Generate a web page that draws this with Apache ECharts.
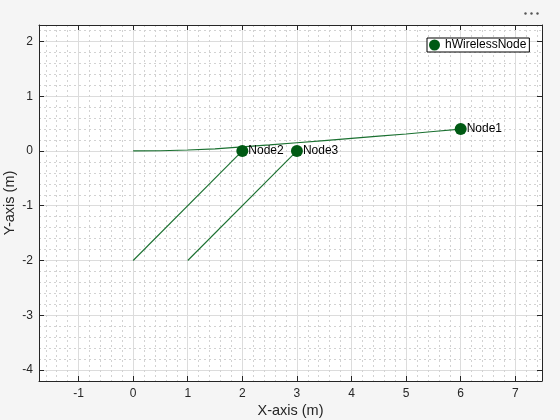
<!DOCTYPE html>
<html>
<head>
<meta charset="utf-8">
<script src="https://cdn.jsdelivr.net/npm/echarts@6/dist/echarts.min.js"></script>
<style>
html,body{margin:0;padding:0;background:#f5f5f5;}
#c{width:560px;height:420px;}
</style>
</head>
<body>
<div id="c"></div>
<script>
// ---- data ----
const nodeNames = ['Node1', 'Node2', 'Node3'];
const nodeX = [6, 2, 3];
const nodeY = [0.4, 0, 0];
const track1 = [[0, -2], [2, 0]];
const track2 = [[1, -2], [3, 0]];
const curveX = [0, 0.5, 1, 1.5, 2, 2.5, 3, 3.5, 4, 4.5, 5, 5.5, 6];
const curveY = [0, 0.004, 0.018, 0.04, 0.075, 0.11, 0.15, 0.19, 0.23, 0.27, 0.31, 0.355, 0.4];
const legendName = 'hWirelessNode';
const xTitle = 'X-axis (m)';
const yTitle = 'Y-axis (m)';

const FONT = 'Liberation Sans, Arial, sans-serif';
const axisColor = '#262626';
const lineColor = '#1a7030';
const markerColor = '#005a14';

const chart = echarts.init(document.getElementById('c'), null, {renderer: 'canvas'});

function baseAxis(extra) {
  return Object.assign({
    type: 'value',
    axisLine: {show: true, onZero: false, lineStyle: {color: axisColor, width: 1}},
    axisTick: {show: true, inside: true, length: 5, lineStyle: {color: axisColor}},
    splitLine: {show: false},
    minorTick: {show: false, splitNumber: 5},
    minorSplitLine: {show: false}
  }, extra);
}

const option = {
  backgroundColor: '#f5f5f5',
  animation: false,
  textStyle: {fontFamily: FONT},
  grid: {left: 39, top: 25, right: 18, bottom: 39, show: true, backgroundColor: '#ffffff', borderWidth: 0,
    containLabel: false, outerBoundsMode: 'none'},
  legend: {
    data: [{name: legendName, icon: 'circle'}],
    left: 427, top: 38,
    orient: 'vertical',
    itemWidth: 11, itemHeight: 11, itemGap: 0,
    padding: [1, 3, 1, 2],
    borderColor: '#000', borderWidth: 1,
    backgroundColor: '#fff',
    textStyle: {fontFamily: FONT, fontSize: 12, color: '#000'}
  },
  xAxis: [
    baseAxis({
      position: 'bottom', min: -1.725, max: 7.49, splitNumber: 9, minInterval: 1, maxInterval: 1,
      name: xTitle, nameLocation: 'middle', nameGap: 22, nameMoveOverlap: false,
      nameTextStyle: {fontFamily: FONT, fontSize: 14.5, color: axisColor},
      axisLabel: {show: true, showMinLabel: false, showMaxLabel: false, margin: 7, fontFamily: FONT, fontSize: 12, color: axisColor},
      splitLine: {show: true, lineStyle: {color: '#dcdcdc', width: 1}},
      minorTick: {show: false, splitNumber: 5},
      minorSplitLine: {show: true, lineStyle: {color: '#d2d2d2', width: 1, type: [2, 3]}}
    }),
    baseAxis({
      position: 'top', min: -1.725, max: 7.49, splitNumber: 9, minInterval: 1, maxInterval: 1,
      axisLabel: {show: false}
    })
  ],
  yAxis: [
    baseAxis({
      position: 'left', min: -4.2, max: 2.3, splitNumber: 6, minInterval: 1, maxInterval: 1,
      name: yTitle, nameLocation: 'middle', nameGap: 22, nameMoveOverlap: false,
      nameTextStyle: {fontFamily: FONT, fontSize: 14.5, color: axisColor},
      axisLabel: {show: true, showMinLabel: false, showMaxLabel: false, margin: 6, fontFamily: FONT, fontSize: 12, color: axisColor},
      splitLine: {show: true, lineStyle: {color: '#dcdcdc', width: 1}},
      minorTick: {show: false, splitNumber: 5},
      minorSplitLine: {show: true, lineStyle: {color: '#d2d2d2', width: 1, type: [2, 3]}}
    }),
    baseAxis({
      position: 'right', min: -4.2, max: 2.3, splitNumber: 6, minInterval: 1, maxInterval: 1,
      axisLabel: {show: false}
    })
  ],
  graphic: [
    {type: 'circle', shape: {cx: 525.5, cy: 13.5, r: 1.2}, style: {fill: '#555'}},
    {type: 'circle', shape: {cx: 531.5, cy: 13.5, r: 1.2}, style: {fill: '#555'}},
    {type: 'circle', shape: {cx: 537.5, cy: 13.5, r: 1.2}, style: {fill: '#555'}}
  ],
  series: [
    {
      type: 'line', name: 'track1', data: track1, symbol: 'none',
      lineStyle: {color: lineColor, width: 1.1}, silent: true, z: 2
    },
    {
      type: 'line', name: 'track2', data: track2, symbol: 'none',
      lineStyle: {color: lineColor, width: 1.1}, silent: true, z: 2
    },
    {
      type: 'line', name: 'curve', data: curveX.map((x, i) => [x, curveY[i]]), symbol: 'none',
      lineStyle: {color: lineColor, width: 1.2}, silent: true, z: 2
    },
    {
      type: 'scatter', name: legendName,
      data: nodeNames.map((n, i) => ({name: n, value: [nodeX[i], nodeY[i]]})),
      symbol: 'circle', symbolSize: 12,
      itemStyle: {color: markerColor, opacity: 1},
      label: {show: true, position: 'right', distance: 0, formatter: '{b}',
        fontFamily: FONT, fontSize: 12, color: '#000'},
      z: 5
    }
  ]
};
chart.setOption(option);
</script>
</body>
</html>
